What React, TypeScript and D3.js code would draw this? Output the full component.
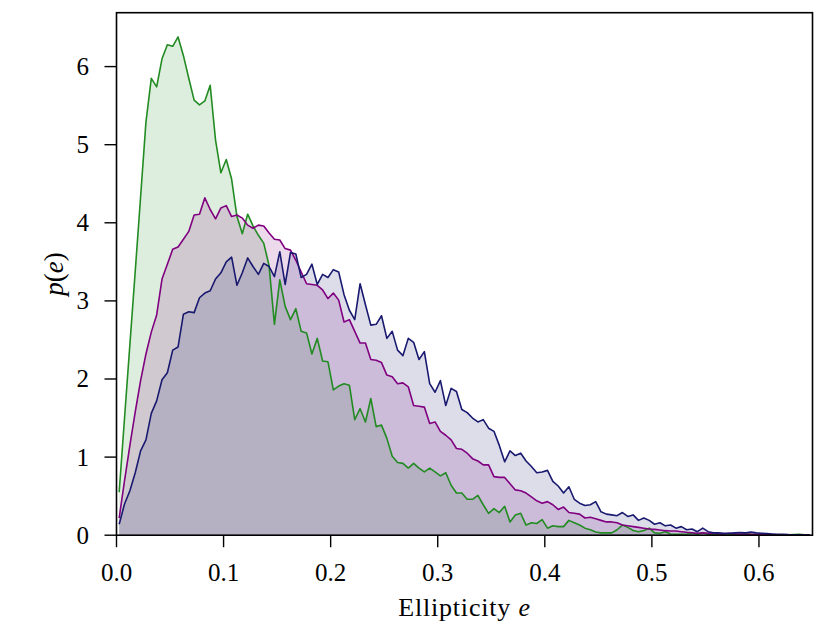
import React from "react";
import * as d3 from "d3";

// histogram bins: width 0.005, first centre at 0.0025
const binWidth = 0.005;
const binCount = 130;
const binCenters = d3.range(binCount).map((i) => binWidth / 2 + i * binWidth);

const greenValues = [
  0.55, 1.5, 2.44, 3.38, 4.33, 5.29, 5.85, 5.74, 6.1, 6.28,
  6.26, 6.38, 6.14, 5.85, 5.57, 5.51, 5.56, 5.76, 5.06, 4.64,
  4.81, 4.56, 4.08, 3.86, 4.11, 3.96, 3.84, 3.74, 3.45, 2.7,
  3.27, 2.93, 2.76, 2.9, 2.61, 2.59, 2.32, 2.52, 2.23, 2.22,
  1.86, 1.91, 1.94, 1.92, 1.48, 1.62, 1.45, 1.75, 1.39, 1.41,
  1.24, 1.01, 0.93, 0.92, 0.86, 0.92, 0.86, 0.81, 0.86, 0.81,
  0.76, 0.8, 0.64, 0.54, 0.54, 0.46, 0.46, 0.51, 0.39, 0.28,
  0.34, 0.29, 0.37, 0.17, 0.26, 0.28, 0.13, 0.16, 0.15, 0.2,
  0.09, 0.12, 0.11, 0.11, 0.19, 0.16, 0.13, 0.09, 0.07, 0.04,
  0.03, 0.03, 0.03, 0.07, 0.13, 0.1, 0.06, 0.045, 0.06, 0.09,
  0.03, 0.024, 0.045, 0.015, 0.012, 0.012, 0.015, 0.024, 0.012, 0.03,
  0.012, 0.01, 0.008, 0.01, 0.006, 0.008, 0.012, 0.02, 0.012, 0.008,
  0.006, 0.005, 0.005, 0.004, 0.006, 0.004, 0.008, 0.01, 0.004, 0.003,
];

const purpleValues = [
  0.22, 0.7, 1.15, 1.58, 1.98, 2.32, 2.6, 2.82, 3.28, 3.47,
  3.66, 3.69, 3.79, 3.89, 4.1, 4.11, 4.32, 4.17, 4.05, 4.19,
  4.22, 4.08, 4.1, 4.06, 3.97, 3.93, 3.97, 3.96, 3.87, 3.79,
  3.78, 3.67, 3.65, 3.52, 3.37, 3.22, 3.21, 3.2, 3.14, 3.03,
  3.1, 3.01, 2.73, 2.76, 2.61, 2.46, 2.46, 2.25, 2.24, 2.21,
  2.05, 2.03, 1.94, 1.95, 1.9, 1.66, 1.65, 1.64, 1.43, 1.45,
  1.33, 1.28, 1.22, 1.11, 1.1, 1.05, 0.98, 0.95, 0.9, 0.9,
  0.75, 0.74, 0.74, 0.66, 0.58, 0.57, 0.54, 0.49, 0.44, 0.41,
  0.43, 0.39, 0.33, 0.36, 0.29, 0.28, 0.27, 0.22, 0.23, 0.21,
  0.19, 0.17, 0.17, 0.16, 0.13, 0.12, 0.11, 0.1, 0.09, 0.08,
  0.075, 0.067, 0.058, 0.054, 0.054, 0.045, 0.037, 0.032, 0.024, 0.032,
  0.024, 0.024, 0.015, 0.015, 0.024, 0.015, 0.015, 0.011, 0.012, 0.01,
  0.008, 0.008, 0.006, 0.006, 0.005, 0.005, 0.004, 0.004, 0.003, 0.003,
];

const navyValues = [
  0.14, 0.4, 0.57, 0.8, 1.08, 1.22, 1.56, 1.72, 1.99, 2.08,
  2.37, 2.41, 2.83, 2.86, 2.85, 3.04, 3.1, 3.13, 3.28, 3.36,
  3.5, 3.56, 3.2, 3.36, 3.55, 3.44, 3.34, 3.48, 3.44, 3.31,
  3.63, 3.21, 3.62, 3.6, 3.3, 3.34, 3.47, 3.21, 3.34, 3.3,
  3.4, 3.37, 3.08, 2.88, 2.76, 3.22, 2.95, 2.69, 2.7, 2.81,
  2.52, 2.61, 2.37, 2.3, 2.52, 2.47, 2.25, 2.35, 1.94, 1.83,
  1.98, 1.66, 1.88, 1.84, 1.61, 1.57, 1.5, 1.45, 1.48, 1.37,
  1.33, 1.15, 0.94, 1.08, 1.02, 1.05, 0.95, 0.88, 0.8, 0.81,
  0.83, 0.69, 0.63, 0.54, 0.62, 0.46, 0.41, 0.38, 0.39, 0.43,
  0.3, 0.27, 0.26, 0.25, 0.29, 0.24, 0.26, 0.19, 0.22, 0.19,
  0.14, 0.16, 0.12, 0.13, 0.09, 0.11, 0.07, 0.08, 0.045, 0.09,
  0.045, 0.03, 0.03, 0.025, 0.025, 0.03, 0.035, 0.03, 0.04, 0.03,
  0.025, 0.02, 0.015, 0.01, 0.012, 0.008, 0.006, 0.005, 0.004, 0.003,
];

const xTicks = [0.0, 0.1, 0.2, 0.3, 0.4, 0.5, 0.6];
const yTicks = [0, 1, 2, 3, 4, 5, 6];

const series = [
  { name: "green", color: "#228b22", values: greenValues },
  { name: "purple", color: "#800080", values: purpleValues },
  { name: "navy", color: "#191970", values: navyValues },
];

const width = 830;
const height = 623;
const margin = { left: 116.5, right: 17.5, top: 12.7, bottom: 87.8 };
const font = "'Liberation Serif', 'Times New Roman', serif";

export default function App() {
  const x = d3
    .scaleLinear()
    .domain([0, 0.65])
    .range([margin.left, width - margin.right]);
  const y = d3
    .scaleLinear()
    .domain([0, 6.69])
    .range([height - margin.bottom, margin.top]);

  const area = d3
    .area<number>()
    .x((_, i) => x(binCenters[i]))
    .y0(y(0))
    .y1((d) => y(d));
  const line = d3
    .line<number>()
    .x((_, i) => x(binCenters[i]))
    .y((d) => y(d));

  const x0 = margin.left;
  const x1 = width - margin.right;
  const y0 = height - margin.bottom;
  const y1 = margin.top;

  return (
    <svg
      width={width}
      height={height}
      style={{ position: "absolute", left: 0, top: 0, background: "#fff" }}
      fontFamily={font}
    >
      <defs>
        <clipPath id="plot">
          <rect x={x0} y={y1} width={x1 - x0} height={y0 - y1} />
        </clipPath>
      </defs>
      <g clipPath="url(#plot)">
        {series.map((s) => (
          <path key={s.name + "-fill"} d={area(s.values) as string} fill={s.color} fillOpacity={0.15} stroke="none" />
        ))}
        {series.map((s) => (
          <path
            key={s.name + "-line"}
            d={line(s.values) as string}
            fill="none"
            stroke={s.color}
            strokeWidth={1.6}
            strokeLinejoin="round"
          />
        ))}
      </g>

      {/* frame */}
      <rect x={x0} y={y1} width={x1 - x0} height={y0 - y1} fill="none" stroke="#000" strokeWidth={1.6} />

      {/* x axis */}
      {xTicks.map((t) => (
        <g key={"x" + t}>
          <line x1={x(t)} x2={x(t)} y1={y0} y2={y0 + 12} stroke="#000" strokeWidth={1.4} />
          <text x={x(t)} y={581} textAnchor="middle" fontSize={25}>
            {t.toFixed(1)}
          </text>
        </g>
      ))}
      <text x={(x0 + x1) / 2} y={616} textAnchor="middle" fontSize={26} letterSpacing={0.8}>
        Ellipticity <tspan fontStyle="italic">e</tspan>
      </text>

      {/* y axis */}
      {yTicks.map((t) => (
        <g key={"y" + t}>
          <line x1={x0 - 12} x2={x0} y1={y(t)} y2={y(t)} stroke="#000" strokeWidth={1.4} />
          <text x={89} y={y(t) + 8.5} textAnchor="end" fontSize={25}>
            {t}
          </text>
        </g>
      ))}
      <text transform={`translate(63, ${(y0 + y1) / 2}) rotate(-90)`} textAnchor="middle" fontSize={27}>
        <tspan fontStyle="italic">p</tspan>(<tspan fontStyle="italic">e</tspan>)
      </text>
    </svg>
  );
}
